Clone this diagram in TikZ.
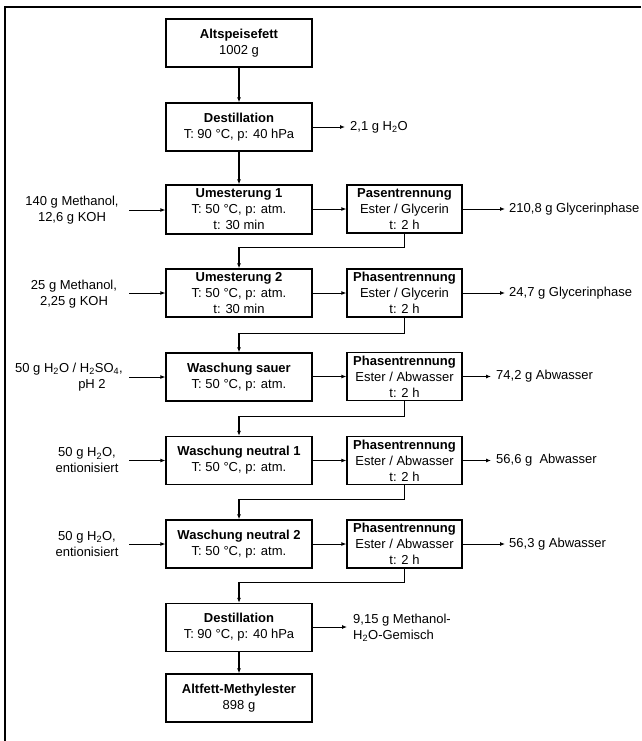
\documentclass[tikz,border=0pt]{standalone}
\usepackage{fontspec}
\setmainfont{Liberation Sans}
\usetikzlibrary{arrows.meta}
\begin{document}
\begin{tikzpicture}[x=1pt,y=-1pt,
  box/.style={draw,line width=1.3pt,minimum height=48pt,inner sep=0pt,align=center,font=\fontsize{13}{16}\selectfont},
  mainbox/.style={box,minimum width=146pt},
  phasebox/.style={box,minimum width=115pt},
  lbl/.style={inner sep=0pt,font=\fontsize{13}{16}\selectfont},
  flow/.style={line width=0.9pt,-{Latex[length=5pt,width=4pt]}},
  link/.style={line width=1.1pt,-{Latex[length=5pt,width=4pt]}}
]
\useasboundingbox (0,0) rectangle (641,741);
\draw[line width=1.2pt] (641,7) -- (5,7) -- (5,741);

% main column
\node[mainbox] (a1) at (239,43) {\textbf{Altspeisefett}\\1002 g};
\node[mainbox] (d1) at (239,127) {\textbf{Destillation}\\T: 90 °C, p: 40 hPa};
\node[mainbox,minimum height=49pt] (u1) at (239,209.5) {\textbf{Umesterung 1}\\T: 50 °C, p: atm.\\t: 30 min};
\node[mainbox] (u2) at (239,293) {\textbf{Umesterung 2}\\T: 50 °C, p: atm.\\t: 30 min};
\node[mainbox] (w1) at (239,377) {\textbf{Waschung sauer}\\T: 50 °C, p: atm.};
\node[mainbox] (w2) at (239,460.5) {\textbf{Waschung neutral 1}\\T: 50 °C, p: atm.};
\node[mainbox] (w3) at (239,544) {\textbf{Waschung neutral 2}\\T: 50 °C, p: atm.};
\node[mainbox] (d2) at (239,627.5) {\textbf{Destillation}\\T: 90 °C, p: 40 hPa};
\node[mainbox] (e1) at (239,698) {\textbf{Altfett-Methylester}\\898 g};

% phase separation column
\node[phasebox] (p1) at (404.5,209) {\textbf{Pasentrennung}\\Ester / Glycerin\\t: 2 h};
\node[phasebox] (p2) at (404.5,293) {\textbf{Phasentrennung}\\Ester / Glycerin\\t: 2 h};
\node[phasebox] (p3) at (404.5,376.5) {\textbf{Phasentrennung}\\Ester / Abwasser\\t: 2 h};
\node[phasebox] (p4) at (404.5,460.5) {\textbf{Phasentrennung}\\Ester / Abwasser\\t: 2 h};
\node[phasebox] (p5) at (404.5,544) {\textbf{Phasentrennung}\\Ester / Abwasser\\t: 2 h};

% vertical flow
\draw[link] (a1) -- (d1);
\draw[link] (d1) -- (u1);
\draw[link] (p1.south) -- ++(0,14) -| (u2.north);
\draw[link] (p2.south) -- ++(0,16) -| (w1.north);
\draw[link] (p3.south) -- ++(0,15) -| (w2.north);
\draw[link] (p4.south) -- ++(0,14) -| (w3.north);
\draw[link] (p5.south) -- ++(0,14) -| (d2.north);
\draw[link] (d2) -- (e1);

% main -> phase
\foreach \m/\p in {u1/p1,u2/p2,w1/p3,w2/p4,w3/p5} {\draw[flow] (\m.east |- \p) -- (\p.west);}

% inputs
\node[lbl,align=center] (i1) at (72,210) {140 g Methanol,\\12,6 g KOH};
\node[lbl,align=center] (i2) at (74,294) {25 g Methanol,\\2,25 g KOH};
\node[lbl] (i3a) at (69,369) {50 g H\textsubscript{2}O / H\textsubscript{2}SO\textsubscript{4},};
\node[lbl] (i3b) at (92,385) {pH 2};
\node[lbl,align=center] (i4) at (87,460.5) {50 g H\textsubscript{2}O,\\entionisiert};
\node[lbl,align=center] (i5) at (87,544) {50 g H\textsubscript{2}O,\\entionisiert};
\coordinate (c1) at (129,210);
\coordinate (c2) at (129,293);
\coordinate (c3) at (129,377);
\coordinate (c4) at (129,460.5);
\coordinate (c5) at (129,544);
\draw[flow] (c1) -- (u1.west |- c1);
\draw[flow] (c2) -- (u2.west |- c2);
\draw[flow] (c3) -- (w1.west |- c3);
\draw[flow] (c4) -- (w2.west |- c4);
\draw[flow] (c5) -- (w3.west |- c5);

% outputs
\coordinate (o0) at (345,127);
\coordinate (o1) at (505,209);
\coordinate (o2) at (505,293);
\coordinate (o3) at (491,376.5);
\coordinate (o4) at (491,460.5);
\coordinate (o5) at (505,544);
\coordinate (o6) at (347,627);
\draw[flow] (d1.east) -- (o0);
\draw[flow] (p1.east) -- (o1);
\draw[flow] (p2.east) -- (o2);
\draw[flow] (p3.east) -- (o3);
\draw[flow] (p4.east) -- (o4);
\draw[flow] (p5.east) -- (o5);
\draw[flow] (d2.east |- o6) -- (o6);
\node[lbl,anchor=west] (t0) at (350,127) {2,1 g H\textsubscript{2}O};
\node[lbl,anchor=west] (t1) at (509,209) {210,8 g Glycerinphase};
\node[lbl,anchor=west] (t2) at (509,293) {24,7 g Glycerinphase};
\node[lbl,anchor=west] (t3) at (496,376.5) {74,2 g Abwasser};
\node[lbl,anchor=west] (t4) at (496,460.5) {56,6 g~ Abwasser};
\node[lbl,anchor=west] (t5) at (509,544) {56,3 g Abwasser};
\node[lbl,anchor=west,align=left] (t6) at (353,627.5) {9,15 g Methanol-\\H\textsubscript{2}O-Gemisch};
\end{tikzpicture}
\end{document}
